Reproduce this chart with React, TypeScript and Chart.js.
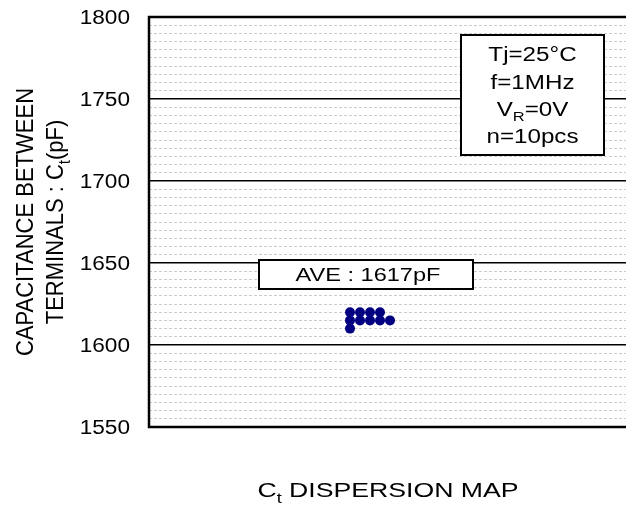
import React, { useEffect, useRef } from 'react';
import { Chart, registerables } from 'chart.js';

Chart.register(...registerables);

// ---- data ----
const columnIndex = [0, 1, 2, 3, 0, 1, 2, 3, 4, 0];
const capacitanceValues = [1620, 1620, 1620, 1620, 1615, 1615, 1615, 1615, 1615, 1610];
const yTickLabels = [1550, 1600, 1650, 1700, 1750, 1800];
type Part = { t: string; sub?: boolean };
const conditionLines: Part[][] = [
  [{ t: 'Tj=25°C' }],
  [{ t: 'f=1MHz' }],
  [{ t: 'V' }, { t: 'R', sub: true }, { t: '=0V' }],
  [{ t: 'n=10pcs' }],
];
const aveLabel: Part[] = [{ t: 'AVE : 1617pF' }];
const yTitleLines: Part[][] = [
  [{ t: 'CAPACITANCE BETWEEN' }],
  [{ t: 'TERMINALS : C' }, { t: 't', sub: true }, { t: '(pF)' }],
];
const xTitle: Part[] = [{ t: 'C' }, { t: 't', sub: true }, { t: ' DISPERSION MAP' }];

const FONT = '"Liberation Sans", Arial, Helvetica, sans-serif';

function drawRich(
  ctx: CanvasRenderingContext2D,
  parts: Part[],
  x: number,
  y: number,
  size: number,
  align: 'left' | 'center' | 'right',
  sx: number,
  rotate = false
) {
  ctx.save();
  ctx.translate(x, y);
  ctx.scale(sx, 1);
  if (rotate) ctx.rotate(-Math.PI / 2);
  const subSize = size * 0.68;
  let total = 0;
  const widths: number[] = [];
  for (const p of parts) {
    ctx.font = `${p.sub ? subSize : size}px ${FONT}`;
    const w = ctx.measureText(p.t).width;
    widths.push(w);
    total += w;
  }
  let cx = align === 'center' ? -total / 2 : align === 'right' ? -total : 0;
  ctx.textAlign = 'left';
  ctx.textBaseline = 'alphabetic';
  ctx.fillStyle = '#000';
  parts.forEach((p, i) => {
    ctx.font = `${p.sub ? subSize : size}px ${FONT}`;
    ctx.fillText(p.t, cx, p.sub ? size * 0.27 : 0);
    cx += widths[i];
  });
  ctx.restore();
}

const decorPlugin = {
  id: 'decor',
  afterDatasetsDraw(chart: any) {
    const { ctx, chartArea } = chart;
    const { left, top, right, bottom } = chartArea;
    ctx.save();
    // frame
    ctx.strokeStyle = '#000';
    ctx.lineWidth = 2.5;
    ctx.beginPath();
    ctx.moveTo(right + 5, top);
    ctx.lineTo(left, top);
    ctx.lineTo(left, bottom);
    ctx.lineTo(right + 5, bottom);
    ctx.stroke();

    // condition box
    const bx1 = 461, by1 = 35, bx2 = 604, by2 = 155;
    ctx.fillStyle = '#fff';
    ctx.fillRect(bx1, by1, bx2 - bx1, by2 - by1);
    ctx.lineWidth = 2;
    ctx.strokeRect(bx1, by1, bx2 - bx1, by2 - by1);

    // AVE box
    const ax1 = 259, ay1 = 260, ax2 = 473, ay2 = 289;
    ctx.fillRect(ax1, ay1, ax2 - ax1, ay2 - ay1);
    ctx.strokeRect(ax1, ay1, ax2 - ax1, ay2 - ay1);
    ctx.restore();

    const cxBox = (bx1 + bx2) / 2;
    const baselines = [61, 88.5, 115.5, 143];
    conditionLines.forEach((line, i) => drawRich(ctx, line, cxBox, baselines[i], 19.5, 'center', 1.24));
    drawRich(ctx, aveLabel, 368, 280.5, 19, 'center', 1.24);

    // y tick labels
    const ys = chart.scales.y;
    yTickLabels.forEach((v) => {
      const py = ys.getPixelForValue(v);
      drawRich(ctx, [{ t: String(v) }], left - 19, py + 7, 19.5, 'right', 1.16);
    });

    // axis titles
    const midY = (top + bottom) / 2;
    drawRich(ctx, yTitleLines[0], 33, midY, 22, 'center', 1.12, true);
    drawRich(ctx, yTitleLines[1], 63, midY, 22, 'center', 1.12, true);
    drawRich(ctx, xTitle, 388, 497, 20.5, 'center', 1.3);
  },
};

export default function App() {
  const ref = useRef<HTMLCanvasElement | null>(null);
  useEffect(() => {
    if (!ref.current) return;
    const points = capacitanceValues.map((v, i) => ({ x: columnIndex[i], y: v }));
    const chart = new Chart(ref.current, {
      type: 'scatter',
      data: {
        datasets: [
          {
            data: points,
            backgroundColor: '#000080',
            borderWidth: 0,
            pointRadius: 5,
            pointHoverRadius: 5,
          },
        ],
      },
      options: {
        responsive: false,
        animation: false,
        events: [],
        layout: { padding: { left: 0, top: 17, right: 10, bottom: 0 } },
        plugins: { legend: { display: false }, tooltip: { enabled: false } },
        scales: {
          x: {
            type: 'linear',
            min: -20.1,
            max: 28,
            ticks: { display: false },
            grid: { display: false },
            border: { display: false },
            afterFit: (s: any) => {
              s.height = 93;
            },
          },
          y: {
            type: 'linear',
            min: 1550,
            max: 1800,
            ticks: { display: false, stepSize: 5 },
            grid: {
              drawTicks: false,
              color: (c: any) => (c.tick && c.tick.value % 50 === 0 ? '#000' : '#cccccc'),
              lineWidth: (c: any) => (c.tick && c.tick.value % 50 === 0 ? 1.5 : 1),
            },
            border: {
              display: false,
              dash: (c: any) => (c.tick && c.tick.value % 50 === 0 ? [] : [3, 2]),
            },
            afterFit: (s: any) => {
              s.width = 149;
            },
          },
        },
      },
      plugins: [decorPlugin],
    });
    return () => chart.destroy();
  }, []);
  return (
    <div style={{ position: 'absolute', left: 0, top: 0, width: 626, height: 520, overflow: 'hidden', background: '#fff' }}>
      <canvas ref={ref} width={640} height={520} style={{ display: 'block' }} />
    </div>
  );
}
